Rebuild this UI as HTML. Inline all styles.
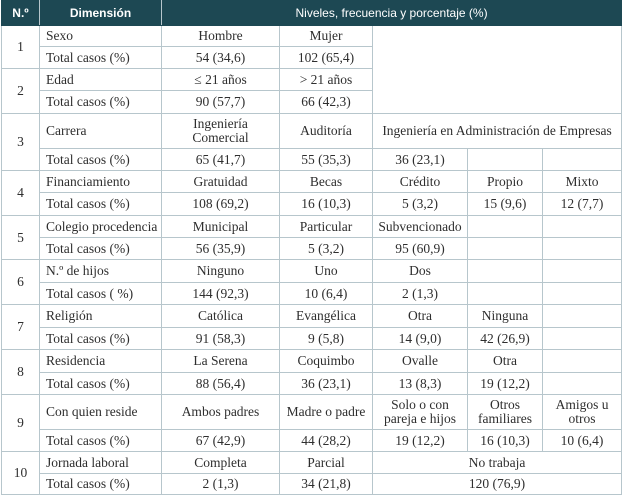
<!DOCTYPE html>
<html><head><meta charset="utf-8"><style>
html,body{margin:0;padding:0;background:#fff;width:624px;height:495px;overflow:hidden}
table{position:absolute;left:1px;top:0;border-collapse:collapse;table-layout:fixed;width:620px;font-family:"Liberation Serif",serif;font-size:13.5px;color:#2e2e2e}
td,th{border:1px solid #b7c6cc;text-align:center;padding:0 2px;line-height:14px;overflow:hidden;white-space:nowrap}
th{background:#1d4853;color:#fff;font-family:"Liberation Sans",sans-serif;font-size:12px;font-weight:bold;border-color:#1d4853;height:24px}
th.n{border-right:1px solid #b7c6cc}th.d{border-right:1px solid #b7c6cc}
td.l{text-align:left;padding-left:6px}
</style></head><body>
<table>
<colgroup><col style="width:38px"><col style="width:122px"><col style="width:118px"><col style="width:93px"><col style="width:95px"><col style="width:75px"><col style="width:79px"></colgroup>
<tr><th class="n">N.º</th><th class="d">Dimensión</th><th colspan="5" style="font-weight:normal">Niveles, frecuencia y porcentaje (%)</th></tr>
<tr style="height:21px"><td rowspan="2">1</td><td class="l">Sexo</td><td>Hombre</td><td>Mujer</td><td colspan="3" rowspan="4"></td></tr>
<tr style="height:22px"><td class="l">Total casos (%)</td><td>54 (34,6)</td><td>102 (65,4)</td></tr>
<tr style="height:22px"><td rowspan="2">2</td><td class="l">Edad</td><td>≤ 21 años</td><td>&gt; 21 años</td></tr>
<tr style="height:23px"><td class="l">Total casos (%)</td><td>90 (57,7)</td><td>66 (42,3)</td></tr>
<tr style="height:35px"><td rowspan="2">3</td><td class="l">Carrera</td><td>Ingeniería<br>Comercial</td><td>Auditoría</td><td colspan="3">Ingeniería en Administración de Empresas</td></tr>
<tr style="height:22px"><td class="l">Total casos (%)</td><td>65 (41,7)</td><td>55 (35,3)</td><td>36 (23,1)</td><td></td><td></td></tr>
<tr style="height:22px"><td rowspan="2">4</td><td class="l">Financiamiento</td><td>Gratuidad</td><td>Becas</td><td>Crédito</td><td>Propio</td><td>Mixto</td></tr>
<tr style="height:23px"><td class="l">Total casos (%)</td><td>108 (69,2)</td><td>16 (10,3)</td><td>5 (3,2)</td><td>15 (9,6)</td><td>12 (7,7)</td></tr>
<tr style="height:22px"><td rowspan="2">5</td><td class="l">Colegio procedencia</td><td>Municipal</td><td>Particular</td><td>Subvencionado</td><td></td><td></td></tr>
<tr style="height:22px"><td class="l">Total casos (%)</td><td>56 (35,9)</td><td>5 (3,2)</td><td>95 (60,9)</td><td></td><td></td></tr>
<tr style="height:23px"><td rowspan="2">6</td><td class="l">N.º de hijos</td><td>Ninguno</td><td>Uno</td><td>Dos</td><td></td><td></td></tr>
<tr style="height:22px"><td class="l">Total casos ( %)</td><td>144 (92,3)</td><td>10 (6,4)</td><td>2 (1,3)</td><td></td><td></td></tr>
<tr style="height:23px"><td rowspan="2">7</td><td class="l">Religión</td><td>Católica</td><td>Evangélica</td><td>Otra</td><td>Ninguna</td><td></td></tr>
<tr style="height:22px"><td class="l">Total casos (%)</td><td>91 (58,3)</td><td>9 (5,8)</td><td>14 (9,0)</td><td>42 (26,9)</td><td></td></tr>
<tr style="height:23px"><td rowspan="2">8</td><td class="l">Residencia</td><td>La Serena</td><td>Coquimbo</td><td>Ovalle</td><td>Otra</td><td></td></tr>
<tr style="height:22px"><td class="l">Total casos (%)</td><td>88 (56,4)</td><td>36 (23,1)</td><td>13 (8,3)</td><td>19 (12,2)</td><td></td></tr>
<tr style="height:35px"><td rowspan="2">9</td><td class="l">Con quien reside</td><td>Ambos padres</td><td>Madre o padre</td><td>Solo o con<br>pareja e hijos</td><td>Otros<br>familiares</td><td>Amigos u<br>otros</td></tr>
<tr style="height:22px"><td class="l">Total casos (%)</td><td>67 (42,9)</td><td>44 (28,2)</td><td>19 (12,2)</td><td>16 (10,3)</td><td>10 (6,4)</td></tr>
<tr style="height:22px"><td rowspan="2">10</td><td class="l">Jornada laboral</td><td>Completa</td><td>Parcial</td><td colspan="3">No trabaja</td></tr>
<tr style="height:21px"><td class="l">Total casos (%)</td><td>2 (1,3)</td><td>34 (21,8)</td><td colspan="3">120 (76,9)</td></tr>
</table>
</body></html>
